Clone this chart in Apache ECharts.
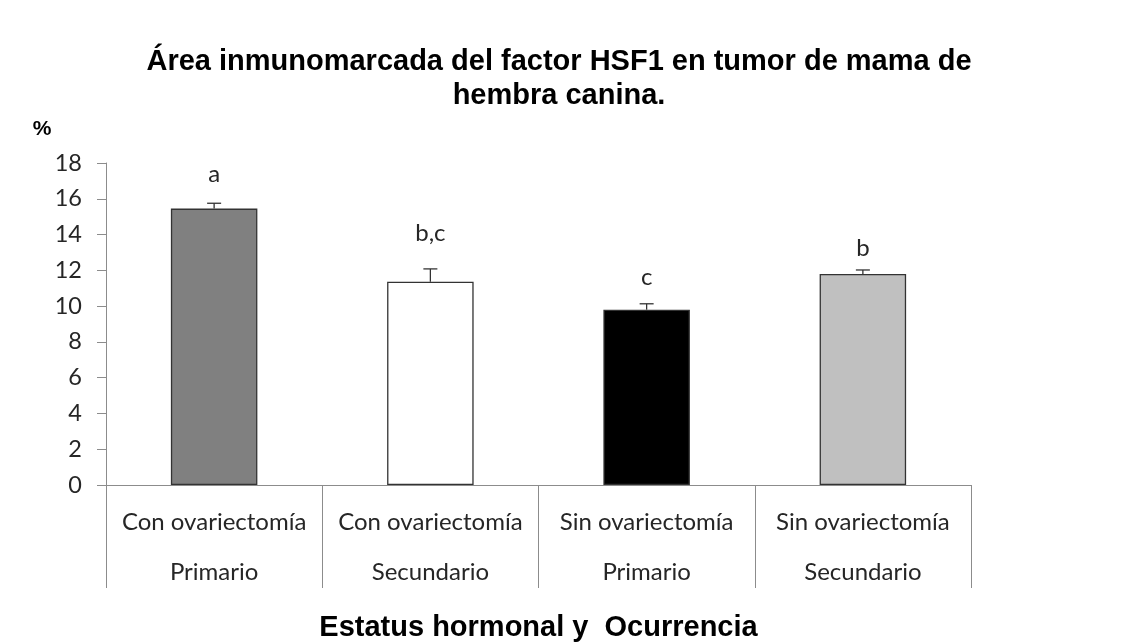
<!DOCTYPE html>
<html>
<head>
<meta charset="utf-8">
<script src="https://cdn.jsdelivr.net/npm/echarts@6/dist/echarts.min.js"></script>
<style>html,body{margin:0;padding:0;background:#fff}#c{width:1125px;height:644px}</style>
</head>
<body>
<div id="c"></div>
<script>
const categories = ['Con ovariectomía\nPrimario', 'Con ovariectomía\nSecundario', 'Sin ovariectomía\nPrimario', 'Sin ovariectomía\nSecundario'];
const means = [15.45, 11.36, 9.8, 11.8];
const errors = [0.3, 0.72, 0.33, 0.22];
const letters = ['a', 'b,c', 'c', 'b'];
const letterY = [17.35, 14.1, 11.6, 13.25];
const barColors = ['#808080', '#ffffff', '#000000', '#c0c0c0'];
const yTicks = { min: 0, max: 18, interval: 2 };

const chart = echarts.init(document.getElementById('c'));
chart.setOption({
  backgroundColor: '#ffffff',
  animation: false,
  title: {
    text: 'Área inmunomarcada del factor HSF1 en tumor de mama de\nhembra canina.',
    left: 554, top: 40, textAlign: 'center',
    textStyle: { fontFamily: 'Liberation Sans', fontWeight: 'bold', fontSize: 29, lineHeight: 34, color: '#000' }
  },
  grid: { left: 106, right: 154, top: 163, bottom: 159, outerBoundsMode: 'none', containLabel: false },
  xAxis: {
    type: 'category', data: categories,
    axisLine: { lineStyle: { color: '#8c8c8c', width: 1 } },
    axisTick: { show: true, interval: 0, length: 103, lineStyle: { color: '#8c8c8c' } },
    axisLabel: { interval: 0, margin: 12, fontFamily: 'Lato', fontSize: 24, lineHeight: 50, color: '#262626' },
    name: 'Estatus hormonal y  Ocurrencia', nameLocation: 'middle', nameGap: 128,
    nameTextStyle: { fontFamily: 'Liberation Sans', fontWeight: 'bold', fontSize: 29, color: '#000' }
  },
  yAxis: {
    type: 'value', min: yTicks.min, max: yTicks.max, interval: yTicks.interval,
    name: '%', nameLocation: 'end', nameGap: 23,
    nameTextStyle: { fontFamily: 'Liberation Sans', fontWeight: 'bold', fontSize: 21, color: '#000', align: 'center', padding: [0, 0, 0, -128] },
    axisLine: { show: true, lineStyle: { color: '#8c8c8c', width: 1 } },
    axisTick: { show: true, length: 9, lineStyle: { color: '#8c8c8c' } },
    axisLabel: { margin: 24, fontFamily: 'Lato', fontSize: 23.5, color: '#262626' },
    splitLine: { show: false }
  },
  series: [
    {
      type: 'bar', barWidth: '40%',
      data: means.map((v, i) => ({ value: v, itemStyle: { color: barColors[i], borderColor: '#333333', borderWidth: 1.3 } }))
    },
    {
      type: 'custom',
      data: means.map((v, i) => [i, v, errors[i]]),
      renderItem: function (params, api) {
        const base = api.coord([api.value(0), api.value(1)]);
        const top = api.coord([api.value(0), api.value(1) + api.value(2)]);
        const style = { stroke: '#333333', lineWidth: 1.3 };
        return { type: 'group', children: [
          { type: 'line', shape: { x1: base[0], y1: base[1], x2: top[0], y2: top[1] }, style: style },
          { type: 'line', shape: { x1: top[0] - 7, y1: top[1], x2: top[0] + 7, y2: top[1] }, style: style }
        ] };
      },
      z: 5
    },
    {
      type: 'custom',
      data: letterY.map((v, i) => [i, v, letters[i]]),
      renderItem: function (params, api) {
        const p = api.coord([api.value(0), api.value(1)]);
        return { type: 'text', x: p[0], y: p[1], style: { text: letters[params.dataIndex], fontFamily: 'Lato', fontSize: 24, fill: '#262626', align: 'center', verticalAlign: 'middle' } };
      },
      z: 6
    }
  ]
});
</script>
</body>
</html>
